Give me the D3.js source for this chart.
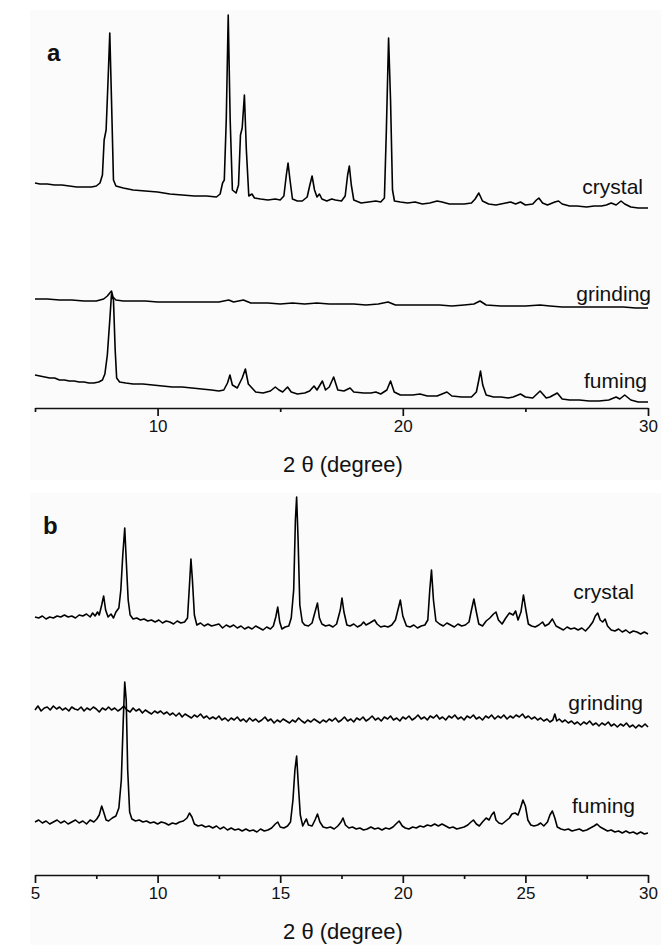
<!DOCTYPE html>
<html>
<head>
<meta charset="utf-8">
<script src="https://cdn.jsdelivr.net/npm/d3@7"></script>
<style>
  body { margin: 0; background: #fff; }
  svg { display: block; }
  text { font-family: Arial, "Liberation Sans", sans-serif; fill: #111; }
</style>
</head>
<body>
<div id="chart"></div>
<script>
// XRD patterns, 2 theta (degree) vs intensity (a.u.)
var sampleNames = ['crystal', 'grinding', 'fuming'];

// panel a
var crystalA = [[5.0,27],[5.2,26],[5.5,26],[5.8,25],[6.1,25],[6.4,24],[6.7,23],[7.0,23],[7.3,23],[7.5,24],[7.65,27],[7.75,35],[7.82,70],[7.9,80],[7.98,130],[8.05,177],[8.12,110],[8.2,30],[8.3,24],[8.6,22],[9.0,20],[9.5,19],[10.0,18],[10.5,16],[11.0,15],[11.5,14],[12.0,14],[12.4,13],[12.55,16],[12.65,27],[12.72,30],[12.8,90],[12.88,195],[12.96,90],[13.05,20],[13.2,17],[13.3,25],[13.38,75],[13.45,82],[13.54,115],[13.62,60],[13.72,14],[13.85,16],[13.95,12],[14.2,11],[14.5,10],[14.8,11],[15.0,10],[15.15,14],[15.25,35],[15.32,47],[15.4,30],[15.5,11],[15.7,9],[15.9,9],[16.1,13],[16.2,24],[16.3,34],[16.4,20],[16.5,13],[16.6,16],[16.7,11],[16.9,9],[17.1,11],[17.25,10],[17.5,9],[17.65,14],[17.75,35],[17.82,44],[17.9,25],[18.0,10],[18.3,7],[18.6,8],[18.9,9],[19.1,8],[19.25,12],[19.33,80],[19.42,172],[19.5,110],[19.58,20],[19.66,9],[19.9,8],[20.2,7],[20.5,8],[20.8,6],[21.1,7],[21.4,9],[21.6,8],[21.9,6],[22.2,6],[22.5,6],[22.8,7],[22.95,11],[23.1,17],[23.25,9],[23.5,6],[23.8,5],[24.2,7],[24.4,8],[24.6,6],[24.8,8],[25.0,5],[25.3,6],[25.45,10],[25.55,12],[25.7,7],[25.9,5],[26.2,8],[26.35,9],[26.5,6],[26.8,4],[27.1,4],[27.5,3],[27.8,4],[28.1,4],[28.3,5],[28.5,7],[28.7,5],[28.9,9],[29.05,6],[29.3,3],[29.6,2],[30.0,2]];

var grindingA = [[5.0,11],[5.5,11],[6.0,10],[6.5,10],[7.0,9],[7.5,9],[7.8,11],[7.95,14],[8.05,17],[8.12,19],[8.18,13],[8.3,10],[8.6,9],[9.0,9],[9.5,9],[10.0,8],[10.5,8],[11.0,8],[11.5,8],[12.0,8],[12.5,8],[12.9,10],[13.1,8],[13.5,10],[13.8,7],[14.5,7],[15.0,6],[15.5,7],[16.0,6],[16.5,7],[17.0,6],[17.5,6],[18.0,6],[18.5,5],[19.0,6],[19.4,8],[19.7,5],[20.5,5],[21.0,5],[21.5,5],[22.0,4],[22.5,5],[22.9,6],[23.15,9],[23.4,5],[24.0,4],[24.5,4],[25.0,4],[25.6,5],[26.0,4],[26.5,3],[27.0,3],[27.5,3],[28.0,3],[28.5,3],[29.0,3],[29.5,2],[30.0,2]];

var fumingA = [[5.0,30],[5.2,29],[5.4,28],[5.6,27],[5.8,27],[6.0,25],[6.2,25],[6.4,24],[6.6,24],[6.8,23],[7.0,23],[7.2,22],[7.4,22],[7.6,23],[7.75,25],[7.85,31],[7.95,50],[8.05,85],[8.12,111],[8.2,105],[8.27,55],[8.33,27],[8.45,23],[8.7,22],[9.0,21],[9.4,21],[9.8,20],[10.2,19],[10.6,18],[11.0,18],[11.4,17],[11.8,16],[12.2,15],[12.5,14],[12.7,15],[12.85,22],[12.95,30],[13.05,20],[13.25,17],[13.45,27],[13.58,36],[13.7,21],[13.85,17],[14.0,13],[14.3,12],[14.6,14],[14.8,18],[14.95,15],[15.1,13],[15.3,18],[15.45,13],[15.7,11],[16.0,12],[16.2,14],[16.38,19],[16.5,15],[16.72,24],[16.85,15],[17.0,18],[17.18,28],[17.35,15],[17.6,14],[17.85,17],[18.0,13],[18.4,12],[18.7,12],[18.9,13],[19.1,11],[19.35,15],[19.5,24],[19.65,13],[19.9,10],[20.1,10],[20.4,10],[20.7,11],[21.0,9],[21.4,9],[21.8,13],[22.0,9],[22.4,8],[22.8,8],[23.0,13],[23.1,25],[23.17,34],[23.26,20],[23.4,10],[23.7,8],[24.0,8],[24.3,7],[24.5,8],[24.8,11],[25.0,8],[25.3,7],[25.6,14],[25.85,7],[26.0,8],[26.3,12],[26.5,6],[26.8,5],[27.2,5],[27.6,4],[28.0,4],[28.4,5],[28.7,8],[28.85,6],[29.05,10],[29.3,5],[29.6,3],[30.0,3]];

// panel b
var crystalB = [[5.0,23],[5.15,22],[5.3,24],[5.45,21],[5.6,23],[5.75,22],[5.9,24],[6.05,23],[6.2,25],[6.35,23],[6.5,24],[6.65,22],[6.8,25],[6.95,24],[7.1,26],[7.25,23],[7.35,27],[7.45,24],[7.55,28],[7.62,25],[7.72,35],[7.8,44],[7.88,30],[7.98,23],[8.1,26],[8.2,22],[8.3,28],[8.42,32],[8.5,50],[8.58,85],[8.66,112],[8.74,70],[8.8,40],[8.88,25],[9.0,21],[9.15,22],[9.3,20],[9.45,21],[9.6,19],[9.75,20],[9.9,18],[10.05,20],[10.2,17],[10.35,19],[10.5,18],[10.65,16],[10.8,19],[10.95,17],[11.1,18],[11.22,22],[11.3,55],[11.36,81],[11.42,60],[11.5,25],[11.6,15],[11.75,17],[11.9,14],[12.05,16],[12.2,14],[12.35,15],[12.5,16],[12.65,12],[12.8,15],[12.95,13],[13.1,15],[13.25,12],[13.4,14],[13.55,11],[13.7,13],[13.85,11],[14.0,14],[14.15,12],[14.3,10],[14.45,13],[14.6,11],[14.72,14],[14.82,23],[14.9,33],[14.98,18],[15.07,11],[15.2,13],[15.35,14],[15.45,22],[15.55,50],[15.62,120],[15.67,143],[15.73,100],[15.8,35],[15.9,18],[16.0,15],[16.15,14],[16.3,17],[16.42,28],[16.52,37],[16.6,22],[16.7,16],[16.85,14],[17.0,15],[17.15,13],[17.3,16],[17.45,30],[17.52,42],[17.6,28],[17.72,15],[17.85,14],[18.0,16],[18.15,13],[18.3,15],[18.4,18],[18.5,15],[18.65,17],[18.85,20],[18.95,16],[19.1,13],[19.25,14],[19.4,13],[19.55,15],[19.7,20],[19.82,32],[19.9,40],[20.0,24],[20.15,14],[20.3,13],[20.45,15],[20.6,12],[20.75,14],[20.9,15],[21.02,20],[21.1,50],[21.17,70],[21.25,40],[21.35,19],[21.5,16],[21.65,14],[21.8,17],[21.95,15],[22.1,13],[22.25,16],[22.4,14],[22.55,15],[22.7,18],[22.8,30],[22.9,41],[23.0,28],[23.1,16],[23.25,14],[23.4,19],[23.55,22],[23.7,26],[23.8,28],[23.9,20],[24.05,16],[24.2,22],[24.35,27],[24.5,25],[24.6,29],[24.7,20],[24.82,28],[24.92,45],[25.02,30],[25.12,16],[25.25,14],[25.4,13],[25.55,15],[25.7,18],[25.8,14],[25.95,16],[26.1,21],[26.25,14],[26.4,12],[26.55,10],[26.7,13],[26.85,11],[27.0,12],[27.15,10],[27.3,12],[27.45,9],[27.6,13],[27.75,18],[27.85,24],[27.95,27],[28.05,20],[28.15,18],[28.25,21],[28.35,14],[28.5,10],[28.65,9],[28.8,11],[28.95,8],[29.1,10],[29.25,7],[29.4,9],[29.55,8],[29.7,6],[29.85,8],[30.0,6]];

var grindingB = [[5.0,20],[5.12,24],[5.25,19],[5.38,22],[5.5,23],[5.62,20],[5.75,24],[5.88,21],[6.0,23],[6.12,20],[6.25,22],[6.38,19],[6.5,23],[6.62,21],[6.75,20],[6.88,23],[7.0,19],[7.12,22],[7.25,20],[7.38,23],[7.5,21],[7.62,18],[7.75,22],[7.88,20],[8.0,23],[8.12,20],[8.25,22],[8.38,19],[8.5,21],[8.62,24],[8.75,20],[8.88,18],[9.0,22],[9.12,19],[9.25,21],[9.38,17],[9.5,20],[9.62,18],[9.75,16],[9.88,19],[10.0,17],[10.12,19],[10.25,16],[10.38,18],[10.5,15],[10.62,17],[10.75,14],[10.88,17],[11.0,13],[11.12,16],[11.25,14],[11.38,12],[11.5,15],[11.62,13],[11.75,16],[11.88,12],[12.0,14],[12.12,11],[12.25,13],[12.38,11],[12.5,14],[12.62,10],[12.75,12],[12.88,9],[13.0,12],[13.12,10],[13.25,13],[13.38,9],[13.5,11],[13.62,8],[13.75,12],[13.88,9],[14.0,11],[14.12,8],[14.25,10],[14.38,13],[14.5,9],[14.62,11],[14.75,7],[14.88,10],[15.0,8],[15.12,11],[15.25,9],[15.38,7],[15.5,10],[15.62,8],[15.75,12],[15.88,9],[16.0,7],[16.12,10],[16.25,8],[16.38,11],[16.5,9],[16.62,7],[16.75,10],[16.88,8],[17.0,11],[17.12,9],[17.25,12],[17.38,8],[17.5,10],[17.62,13],[17.75,9],[17.88,11],[18.0,8],[18.12,12],[18.25,10],[18.38,13],[18.5,9],[18.62,11],[18.75,14],[18.88,10],[19.0,12],[19.12,9],[19.25,13],[19.38,11],[19.5,14],[19.62,10],[19.75,12],[19.88,9],[20.0,13],[20.12,11],[20.25,14],[20.38,10],[20.5,12],[20.62,15],[20.75,11],[20.88,13],[21.0,10],[21.12,14],[21.25,12],[21.38,15],[21.5,11],[21.62,13],[21.75,10],[21.88,14],[22.0,12],[22.12,15],[22.25,11],[22.38,13],[22.5,10],[22.62,14],[22.75,12],[22.88,15],[23.0,11],[23.12,13],[23.25,10],[23.38,14],[23.5,12],[23.62,15],[23.75,11],[23.88,14],[24.0,12],[24.12,15],[24.25,11],[24.38,14],[24.5,12],[24.62,15],[24.75,13],[24.88,16],[25.0,12],[25.12,14],[25.25,11],[25.38,13],[25.5,10],[25.62,12],[25.75,9],[25.88,11],[26.0,8],[26.12,10],[26.2,16],[26.28,9],[26.38,11],[26.5,8],[26.62,10],[26.75,7],[26.88,9],[27.0,6],[27.12,8],[27.25,5],[27.38,8],[27.5,6],[27.62,9],[27.75,5],[27.88,7],[28.0,4],[28.12,7],[28.25,5],[28.38,8],[28.5,4],[28.62,6],[28.75,3],[28.88,6],[29.0,4],[29.12,7],[29.25,3],[29.38,5],[29.5,2],[29.62,5],[29.75,3],[29.88,6],[30.0,3]];

var fumingB = [[5.0,18],[5.15,20],[5.3,17],[5.45,19],[5.6,16],[5.75,18],[5.9,20],[6.05,17],[6.2,19],[6.35,16],[6.5,18],[6.65,20],[6.8,17],[6.95,19],[7.1,16],[7.25,20],[7.4,18],[7.52,21],[7.62,25],[7.72,34],[7.8,28],[7.9,20],[8.0,19],[8.15,22],[8.3,24],[8.42,32],[8.52,60],[8.6,120],[8.66,158],[8.72,140],[8.78,70],[8.86,28],[8.95,21],[9.1,19],[9.25,20],[9.4,18],[9.55,19],[9.7,17],[9.85,18],[10.0,16],[10.15,18],[10.3,17],[10.45,15],[10.6,17],[10.75,16],[10.9,18],[11.05,19],[11.2,22],[11.3,27],[11.4,23],[11.5,16],[11.65,14],[11.8,15],[11.95,13],[12.1,14],[12.25,12],[12.4,14],[12.55,11],[12.7,13],[12.85,10],[13.0,12],[13.15,10],[13.3,11],[13.45,9],[13.6,11],[13.75,9],[13.9,10],[14.05,8],[14.2,11],[14.35,9],[14.5,10],[14.65,12],[14.8,16],[14.9,18],[15.0,13],[15.15,12],[15.3,14],[15.42,18],[15.52,40],[15.6,70],[15.67,84],[15.74,55],[15.82,25],[15.92,14],[16.0,18],[16.07,21],[16.15,15],[16.3,14],[16.42,20],[16.52,26],[16.62,18],[16.75,13],[16.9,12],[17.05,13],[17.2,11],[17.35,14],[17.48,18],[17.56,22],[17.66,15],[17.8,12],[17.95,13],[18.1,11],[18.25,12],[18.4,10],[18.55,11],[18.7,13],[18.85,11],[19.0,12],[19.15,10],[19.3,12],[19.45,11],[19.6,13],[19.72,16],[19.85,19],[19.98,14],[20.1,12],[20.25,11],[20.4,13],[20.55,12],[20.7,14],[20.85,13],[21.0,15],[21.15,14],[21.3,16],[21.45,14],[21.6,16],[21.75,14],[21.9,12],[22.05,13],[22.2,11],[22.35,12],[22.5,13],[22.65,15],[22.78,18],[22.88,20],[23.0,16],[23.12,14],[23.25,18],[23.4,22],[23.52,20],[23.62,25],[23.72,28],[23.8,20],[23.92,17],[24.05,16],[24.2,19],[24.35,22],[24.45,26],[24.58,27],[24.7,25],[24.8,32],[24.9,40],[25.0,34],[25.1,20],[25.22,15],[25.35,14],[25.5,15],[25.62,17],[25.75,14],[25.9,18],[26.0,25],[26.1,29],[26.2,22],[26.3,13],[26.45,11],[26.6,10],[26.75,11],[26.9,9],[27.05,10],[27.2,11],[27.35,9],[27.5,10],[27.65,12],[27.8,14],[27.92,16],[28.05,13],[28.2,11],[28.35,9],[28.5,10],[28.65,8],[28.8,9],[28.95,7],[29.1,9],[29.25,7],[29.4,8],[29.55,6],[29.7,8],[29.85,6],[30.0,7]];

// vertical stacking offsets of each pattern (crystal, grinding, fuming)
var offsetsA = [198, 98, 3];
var offsetsB = [235, 145, 35];

// axis ticks
var majorTicksA = [10, 20, 30];
var minorTicksA = [5, 15, 25];
var majorTicksB = [5, 10, 15, 20, 25, 30];
var minorTicksB = [7.5, 12.5, 17.5, 22.5, 27.5];

(function () {
  var width = 661,
      height = 945;

  var svg = d3.select('#chart')
              .append('svg')
              .attr('width', width)
              .attr('height', height);

  // very faint grey plot backgrounds, like the scanned figure
  svg.append('rect').attr('x', 30).attr('y', 10).attr('width', 631).attr('height', 470).attr('fill', '#fbfbfb');
  svg.append('rect').attr('x', 30).attr('y', 493).attr('width', 631).attr('height', 452).attr('fill', '#fbfbfb');

  var x = d3.scaleLinear()
            .domain([5, 30])
            .range([35, 648]);

  var panels = [
    { letter: 'a', series: [crystalA, grindingA, fumingA], offsets: offsetsA,
      y: d3.scaleLinear().domain([0, 396]).range([408, 12]),
      major: majorTicksA, minor: minorTicksA,
      letterPos: [47, 61], labelX: [643, 651, 647], labelY: [194, 301, 388], titleY: 472 },
    { letter: 'b', series: [crystalB, grindingB, fumingB], offsets: offsetsB,
      y: d3.scaleLinear().domain([0, 380]).range([875, 495]),
      major: majorTicksB, minor: minorTicksB,
      letterPos: [43, 534], labelX: [634, 643, 635], labelY: [599, 710, 813], titleY: 939 }
  ];

  panels.forEach(function (p) {
    var axisY = p.y(0);
    var g = svg.append('g');

    // patterns
    p.series.forEach(function (s, i) {
      var line = d3.line()
                   .x(function (d) { return x(d[0]); })
                   .y(function (d) { return p.y(d[1] + p.offsets[i]); });
      g.append('path')
       .datum(s)
       .attr('fill', 'none')
       .attr('stroke', '#000')
       .attr('stroke-width', 1.6)
       .attr('stroke-linejoin', 'round')
       .attr('d', line);

      g.append('text')
       .attr('x', p.labelX[i])
       .attr('y', p.labelY[i])
       .attr('text-anchor', 'end')
       .style('font-size', '21px')
       .text(sampleNames[i]);
    });

    // x axis, major ticks with labels
    var axisMajor = d3.axisBottom(x)
                      .tickValues(p.major)
                      .tickSize(8)
                      .tickSizeOuter(0)
                      .tickPadding(4)
                      .tickFormat(d3.format('d'));
    var ax = g.append('g')
              .attr('transform', 'translate(0,' + axisY + ')')
              .call(axisMajor);
    ax.select('.domain').attr('stroke', '#111').attr('stroke-width', 1.7);
    ax.selectAll('.tick line').attr('stroke', '#111').attr('stroke-width', 1.7);
    ax.selectAll('.tick text')
      .attr('fill', '#111')
      .style('font-family', 'Arial, "Liberation Sans", sans-serif')
      .style('font-size', '17px');

    // minor ticks
    var axisMinor = d3.axisBottom(x)
                      .tickValues(p.minor)
                      .tickSize(4)
                      .tickSizeOuter(0)
                      .tickFormat('');
    var axm = g.append('g')
               .attr('transform', 'translate(0,' + axisY + ')')
               .call(axisMinor);
    axm.select('.domain').remove();
    axm.selectAll('.tick line').attr('stroke', '#111').attr('stroke-width', 1.7);

    // axis title
    g.append('text')
     .attr('x', 343)
     .attr('y', p.titleY)
     .attr('text-anchor', 'middle')
     .style('font-size', '22px')
     .text('2 \u03b8 (degree)');

    // panel letter
    g.append('text')
     .attr('x', p.letterPos[0])
     .attr('y', p.letterPos[1])
     .style('font-size', '24px')
     .style('font-weight', 'bold')
     .text(p.letter);
  });
})();
</script>
</body>
</html>
